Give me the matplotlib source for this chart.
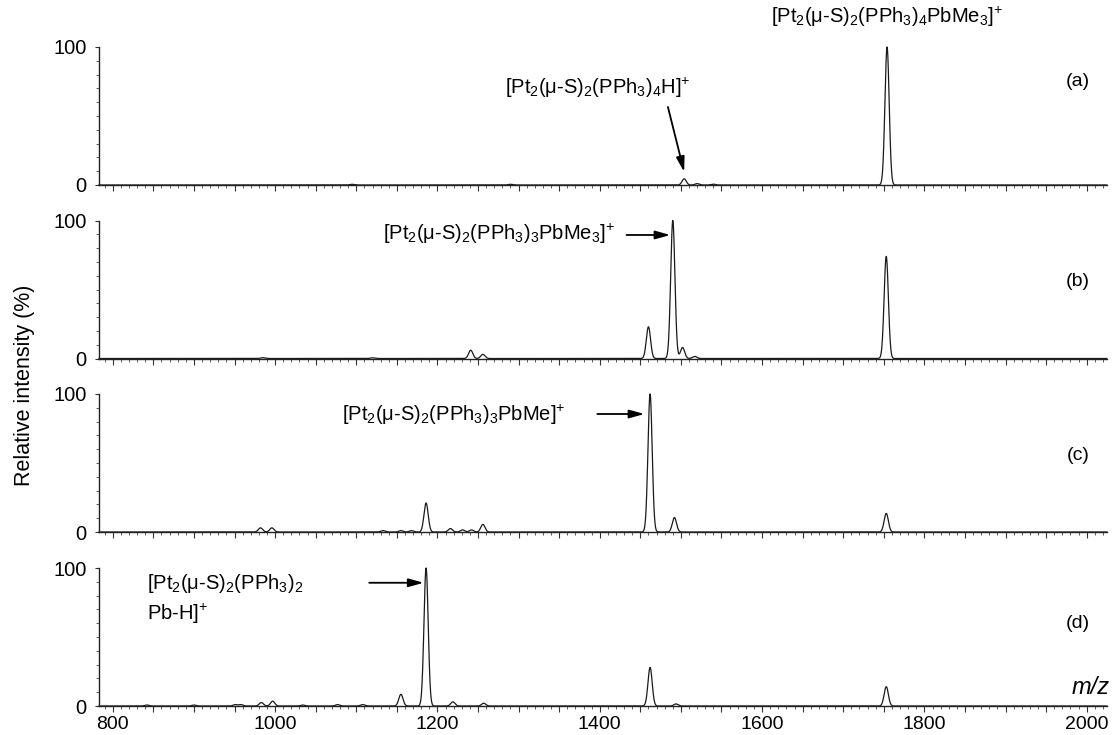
import numpy as np
import matplotlib
matplotlib.use('Agg')
import matplotlib.pyplot as plt
from matplotlib.ticker import MultipleLocator, FixedLocator, NullFormatter

plt.rcParams['font.family'] = ['Liberation Sans', 'DejaVu Sans']
plt.rcParams['mathtext.fontset'] = 'custom'
plt.rcParams['mathtext.rm'] = 'Liberation Sans'
plt.rcParams['mathtext.it'] = 'Liberation Sans:italic'
plt.rcParams['mathtext.bf'] = 'Liberation Sans:bold'

# ---------------- data ----------------
panel_labels = ['(a)', '(b)', '(c)', '(d)']

mz_a = [1095, 1290, 1504, 1520, 1540, 1754]
int_a = [0.5, 0.5, 4.5, 1.0, 0.6, 100]

mz_b = [985, 1120, 1241, 1256, 1460, 1490, 1502, 1517, 1753]
int_b = [0.6, 0.5, 6.0, 3.0, 23, 100, 8.0, 1.5, 74]

mz_c = [982, 996, 1133, 1155, 1168, 1186, 1216, 1231, 1242, 1256, 1462, 1492, 1753]
int_c = [3.0, 3.0, 1.0, 1.0, 1.0, 21, 2.5, 1.5, 1.5, 5.5, 100, 10.5, 13.5]

mz_d = [842, 900, 951, 958, 983, 997, 1034, 1077, 1108, 1155, 1186, 1219, 1257, 1462, 1494, 1753]
int_d = [0.7, 0.7, 1.0, 1.0, 2.5, 3.5, 0.7, 1.0, 1.0, 8.5, 100, 3.0, 2.0, 28, 1.5, 14]

peak_sigma = 2.6

x_tick_values = [800, 1000, 1200, 1400, 1600, 1800, 2000]
y_tick_values = [0, 100]

ann_a_main = r'[Pt$_2$(μ-S)$_2$(PPh$_3$)$_4$PbMe$_3]^{+}$'
ann_a_minor = r'[Pt$_2$(μ-S)$_2$(PPh$_3$)$_4$H$]^{+}$'
ann_b = r'[Pt$_2$(μ-S)$_2$(PPh$_3$)$_3$PbMe$_3]^{+}$'
ann_c = r'[Pt$_2$(μ-S)$_2$(PPh$_3$)$_3$PbMe$]^{+}$'
ann_d1 = r'[Pt$_2$(μ-S)$_2$(PPh$_3$)$_2$'
ann_d2 = r'Pb-H$]^{+}$'

# ---------------- figure ----------------
W, H = 1113, 735
fig = plt.figure(figsize=(W / 100, H / 100), dpi=100)

left_px, right_px = 99, 1107
zero_px = [185, 358.5, 532, 706]
height_px = 138

xmin, xmax = 783, 2025
mz_grid = np.arange(xmin, xmax, 0.2)

def spectrum(centers, heights):
    c = np.asarray(centers)[:, None]
    h = np.asarray(heights)[:, None]
    return (h * np.exp(-0.5 * ((mz_grid[None, :] - c) / peak_sigma) ** 2)).sum(axis=0)

series = [(mz_a, int_a), (mz_b, int_b), (mz_c, int_c), (mz_d, int_d)]
axes = []
for i, (mz, inten) in enumerate(series):
    ax = fig.add_axes([left_px / W, (H - zero_px[i]) / H,
                       (right_px - left_px) / W, height_px / H])
    ax.plot(mz_grid, spectrum(mz, inten), color='#1a1a1a', lw=0.9, clip_on=False)
    ax.set_xlim(xmin, xmax)
    ax.set_ylim(0, 100)
    for s in ['top', 'right']:
        ax.spines[s].set_visible(False)
    for s in ['left', 'bottom']:
        ax.spines[s].set_linewidth(1.0)
        ax.spines[s].set_color('#222222')
    ax.xaxis.set_major_locator(MultipleLocator(50))
    ax.xaxis.set_minor_locator(MultipleLocator(10))
    ax.yaxis.set_major_locator(FixedLocator(y_tick_values))
    ax.yaxis.set_minor_locator(MultipleLocator(10))
    ax.tick_params(axis='x', which='major', direction='out', length=4.5, width=0.8,
                   color='#333333', labelsize=14, pad=3)
    ax.tick_params(axis='x', which='minor', direction='out', length=2.2, width=0.6,
                   color='#444444')
    ax.tick_params(axis='y', which='major', direction='out', length=3, width=0.8,
                   color='#333333', labelsize=14.5, pad=6)
    ax.tick_params(axis='y', which='minor', direction='out', length=2.2, width=0.6,
                   color='#444444')
    ax.set_yticklabels([str(v) for v in y_tick_values])
    if i < 3:
        ax.xaxis.set_major_formatter(NullFormatter())
    else:
        ax.xaxis.set_major_formatter(
            plt.FuncFormatter(lambda v, p: f'{int(v)}' if int(round(v)) in x_tick_values else ''))
    ax.patch.set_alpha(0)
    axes.append(ax)

ax_a, ax_b, ax_c, ax_d = axes
fs = 14.5
arrow = dict(arrowstyle='-|>,head_length=0.9,head_width=0.25', lw=1.3,
             color='black', shrinkA=0, shrinkB=0)

# (a)
ax_a.text(1754, 122, ann_a_main, ha='center', va='center', fontsize=fs, clip_on=False)
ax_a.text(1398, 70, ann_a_minor, ha='center', va='center', fontsize=fs)
ax_a.annotate('', xy=(1504, 9.5), xytext=(1484, 56.5), arrowprops=arrow)
# (b)
ax_b.text(1419, 90.5, ann_b, ha='right', va='center', fontsize=fs)
ax_b.annotate('', xy=(1487, 89.5), xytext=(1433, 89.5), arrowprops=arrow)
# (c)
ax_c.text(1358, 85, ann_c, ha='right', va='center', fontsize=fs)
ax_c.annotate('', xy=(1455, 85.5), xytext=(1397, 85.5), arrowprops=arrow)
# (d)
ax_d.text(842, 89, ann_d1, ha='left', va='center', fontsize=fs)
ax_d.text(842, 67, ann_d2, ha='left', va='center', fontsize=fs)
ax_d.annotate('', xy=(1183, 89.3), xytext=(1116, 89.3), arrowprops=arrow)

# panel labels
label_y_px = [82, 281, 455, 623]
for lab, ypx in zip(panel_labels, label_y_px):
    fig.text(1078 / W, 1 - ypx / H, lab, ha='center', va='center', fontsize=14)

fig.text(1110 / W, 1 - 688 / H, 'm/z', ha='right', va='center', fontsize=17, style='italic')
fig.text(25 / W, 1 - 385 / H, 'Relative intensity (%)', rotation=90,
         ha='center', va='center', fontsize=15.5)

fig.savefig('out.png', dpi=100)
